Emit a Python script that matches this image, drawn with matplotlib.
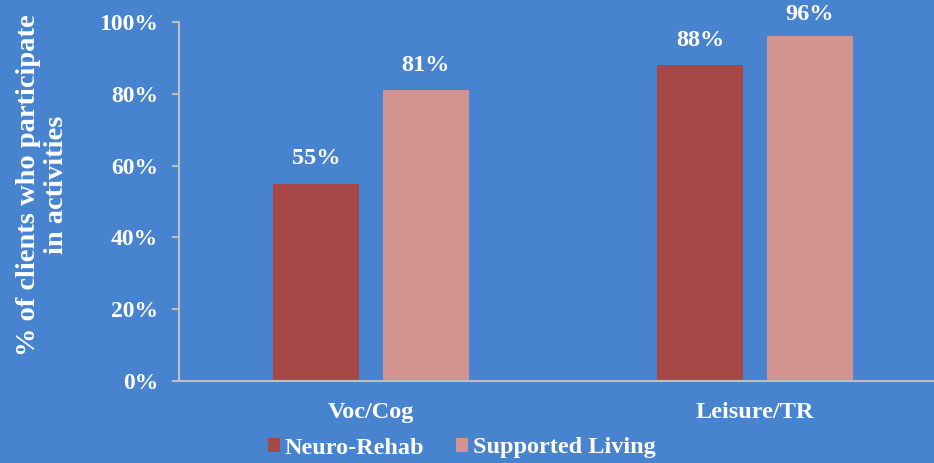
import matplotlib.pyplot as plt
import numpy as np

categories = ['Voc/Cog', 'Leisure/TR']
neuro_rehab = [55, 88]
supported_living = [81, 96]
series_labels = ['Neuro-Rehab', 'Supported Living']
yticks = [0, 20, 40, 60, 80, 100]

BG = '#4783CF'
C_NEURO = '#A84846'
C_SUPP = '#D39391'
AXIS = '#BFBFBF'

plt.rcParams['font.family'] = ['Liberation Serif', 'DejaVu Serif']
plt.rcParams['font.weight'] = 'bold'

fig = plt.figure(figsize=(9.34, 4.63), dpi=100, facecolor=BG)
W, H = 934, 463
ax = fig.add_axes([179 / W, (H - 381) / H, 768 / W, 359 / H])
ax.set_facecolor(BG)

x = np.arange(len(categories))
width = 0.224
off = 0.142
b1 = ax.bar(x - off, neuro_rehab, width, color=C_NEURO, label=series_labels[0], zorder=2)
b2 = ax.bar(x + off, supported_living, width, color=C_SUPP, label=series_labels[1], zorder=2)

for bars, vals in ((b1, neuro_rehab), (b2, supported_living)):
    for r, v in zip(bars, vals):
        # labels near the top get pushed down so they stay inside the figure
        dy = min(18, ((100 - v) * 3.59 + 7) * 0.72)
        ax.annotate(f'{v}%', (r.get_x() + r.get_width() / 2, v), xytext=(0, dy),
                    textcoords='offset points', ha='center', va='center',
                    color='white', fontsize=17.5, fontweight='bold')

ax.set_xlim(-0.5, 1.5)
ax.set_ylim(0, 100)
ax.set_yticks(yticks)
ax.set_yticklabels([f'{t}%' for t in yticks])
ax.set_xticks(x)
ax.set_xticklabels(categories)
ax.tick_params(axis='y', colors=AXIS, labelcolor='white', labelsize=17, length=5, width=1.5, pad=10)
ax.tick_params(axis='x', length=0, labelcolor='white', labelsize=17.5, pad=15)

for s in ('top', 'right'):
    ax.spines[s].set_visible(False)
for s in ('left', 'bottom'):
    ax.spines[s].set_color(AXIS)
    ax.spines[s].set_linewidth(1.5)

ax.set_ylabel('% of clients who participate\nin activities', color='white',
              fontsize=20.5, fontweight='bold', linespacing=1.15)
ax.yaxis.set_label_coords(-0.143, 0.546)

fig.legend(loc='center', bbox_to_anchor=(462 / W, (H - 448) / H), ncol=2, frameon=False,
           fontsize=17.5, labelcolor='white', handlelength=0.5, handleheight=0.5,
           handletextpad=0.2, columnspacing=1.3, borderpad=0)

fig.savefig('out.png', dpi=100, facecolor=BG)
